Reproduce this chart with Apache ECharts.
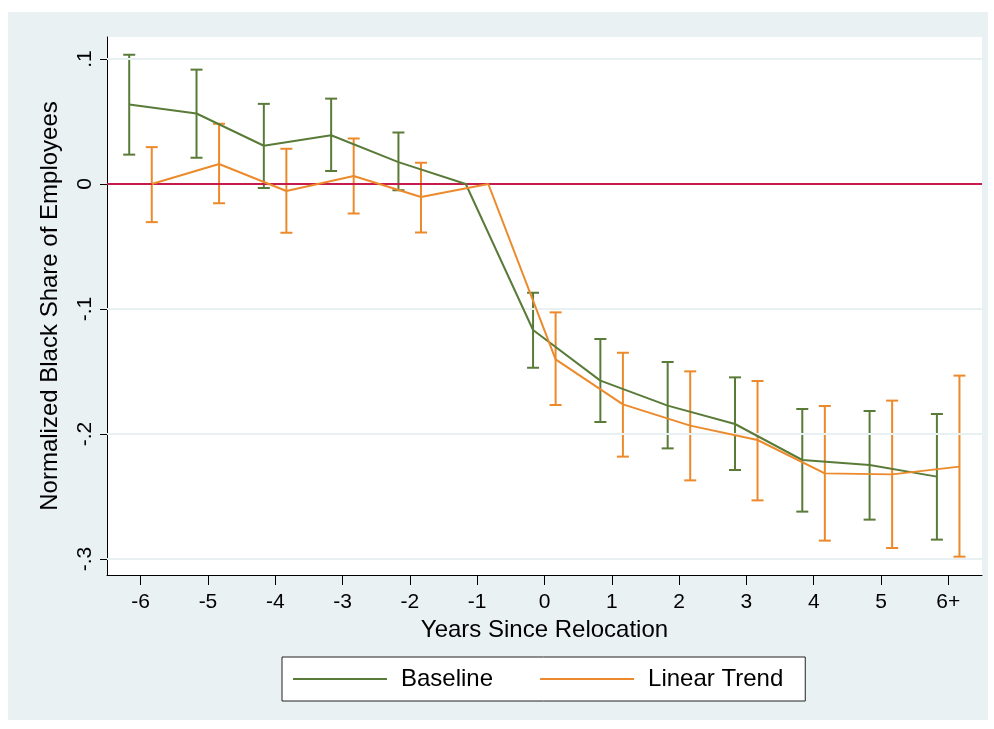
<!DOCTYPE html>
<html>
<head>
<meta charset="utf-8">
<script src="https://cdn.jsdelivr.net/npm/echarts@6/dist/echarts.min.js"></script>
<style>
html,body{margin:0;padding:0;background:#ffffff;}
#bg{position:absolute;left:8px;top:12px;width:980px;height:708px;background:#eaf1f3;}
#c{position:absolute;left:0;top:0;width:994px;height:729px;}
</style>
</head>
<body>
<div id="bg"></div>
<div id="c"></div>
<script>
// ---- data ----
const categories = ['-6','-5','-4','-3','-2','-1','0','1','2','3','4','5','6+'];
const yTickValues = [0.1, 0, -0.1, -0.2, -0.3];
const yTickLabels = ['.1', '0', '-.1', '-.2', '-.3'];

const baselineCoef = [0.0636, 0.0564, 0.0306, 0.0390, 0.0175, 0, -0.1168, -0.1573, -0.1773, -0.1920, -0.2208, -0.2248, -0.2341];
const baselineHi   = [0.1034, 0.0915, 0.0641, 0.0683, 0.0412, null, -0.0870, -0.1240, -0.1424, -0.1547, -0.1800, -0.1816, -0.1840];
const baselineLo   = [0.0235, 0.0210, -0.0032, 0.0104, -0.0050, null, -0.1470, -0.1904, -0.2115, -0.2288, -0.2621, -0.2685, -0.2845];

const trendCoef = [0, 0.0160, -0.0056, 0.0064, -0.0104, 0, -0.1403, -0.1763, -0.1933, -0.2048, -0.2315, -0.2323, -0.2261];
const trendHi   = [0.0295, 0.0482, 0.0282, 0.0364, 0.0170, null, -0.1027, -0.1350, -0.1499, -0.1576, -0.1776, -0.1733, -0.1533];
const trendLo   = [-0.0305, -0.0154, -0.0390, -0.0236, -0.0388, null, -0.1768, -0.2181, -0.2371, -0.2531, -0.2853, -0.2912, -0.2981];

// ---- style / layout ----
const GREEN = '#5a7b38';
const ORANGE = '#ec8a2b';
const RED = '#c41d4b';
const GRID_COLOR = '#e8f0f2';
const BASE_SHIFT = -0.17;
const TREND_SHIFT = 0.165;
const FONT = '"Liberation Sans", Arial, Helvetica, sans-serif';

function xPos(i){ return i - 6; }

function lineData(coef, shift){
  return coef.map((v,i)=>[xPos(i)+shift, v]);
}
function ciData(lo, hi, shift){
  const out = [];
  lo.forEach((v,i)=>{ if(v!==null && hi[i]!==null) out.push([xPos(i)+shift, v, hi[i]]); });
  return out;
}
function ciRender(color){
  return function(params, api){
    const x = api.value(0);
    const p1 = api.coord([x, api.value(1)]);
    const p2 = api.coord([x, api.value(2)]);
    const cap = 6;
    const st = {stroke: color, lineWidth: 2};
    return {type:'group', children:[
      {type:'line', shape:{x1:p1[0], y1:p1[1], x2:p2[0], y2:p2[1]}, style:st},
      {type:'line', shape:{x1:p1[0]-cap, y1:p1[1], x2:p1[0]+cap, y2:p1[1]}, style:st},
      {type:'line', shape:{x1:p2[0]-cap, y1:p2[1], x2:p2[0]+cap, y2:p2[1]}, style:st}
    ]};
  };
}

const chart = echarts.init(document.getElementById('c'), null, {renderer:'canvas'});
chart.setOption({
  backgroundColor: 'transparent',
  animation: false,
  textStyle: {fontFamily: FONT},
  grid: {left:107, top:37, right:12, bottom:154, show:true, backgroundColor:'#ffffff', borderWidth:0},
  xAxis: [
    {
      type:'category', data: categories, boundaryGap:true, gridIndex:0, position:'bottom',
      axisLine:{show:true, onZero:false, lineStyle:{color:'#000', width:1}},
      axisTick:{show:true, alignWithLabel:true, length:10, lineStyle:{color:'#000', width:1}},
      axisLabel:{fontSize:21, color:'#000', margin:17, fontFamily:FONT},
      splitLine:{show:false},
      name:'Years Since Relocation', nameLocation:'middle', nameGap:43,
      nameTextStyle:{fontSize:24, color:'#000', fontFamily:FONT}
    },
    {type:'value', min:-6.5, max:6.5, show:false, gridIndex:0, axisLine:{onZero:false}}
  ],
  yAxis: {
    type:'value', min:-0.3128, max:0.1176, position:'left',
    axisLine:{show:true, onZero:false, lineStyle:{color:'#000', width:1}},
    axisTick:{show:true, length:7, customValues: yTickValues, lineStyle:{color:'#000'}},
    axisLabel:{show:true, customValues: yTickValues, rotate:90, margin:11, fontSize:21, color:'#000', fontFamily:FONT,
      formatter: function(v){ const i = yTickValues.findIndex(t=>Math.abs(t-v)<1e-9); return i>=0 ? yTickLabels[i] : ''; }},
    splitLine:{show:false},
    name:'Normalized Black Share of Employees', nameLocation:'middle', nameGap:45,
    nameTextStyle:{fontSize:24, color:'#000', fontFamily:FONT}
  },
  legend: {
    data:['Baseline','Linear Trend'],
    left:282, top:657,
    backgroundColor:'#ffffff', borderColor:'#222', borderWidth:1, borderRadius:0,
    padding:[10,22,10,11], itemGap:47, itemWidth:94, itemHeight:2, icon:'rect',
    textStyle:{fontSize:24, color:'#000', fontFamily:FONT, padding:[0,0,0,9]}
  },
  series: [
    {
      name:'grid', type:'line', xAxisIndex:1, data:[], silent:true,
      markLine:{silent:true, symbol:'none', label:{show:false}, animation:false,
        lineStyle:{color:GRID_COLOR, width:2, type:'solid'},
        data: yTickValues.filter(v=>v!==0).map(v=>({yAxis:v}))}
    },
    {
      name:'zero', type:'line', xAxisIndex:1, data:[], silent:true, z:3,
      markLine:{silent:true, symbol:'none', label:{show:false}, animation:false,
        lineStyle:{color:RED, width:2, type:'solid'}, data:[{yAxis:0}]}
    },
    {
      name:'Baseline CI', type:'custom', xAxisIndex:1, renderItem: ciRender(GREEN),
      data: ciData(baselineLo, baselineHi, BASE_SHIFT), z:4
    },
    {
      name:'Linear Trend CI', type:'custom', xAxisIndex:1, renderItem: ciRender(ORANGE),
      data: ciData(trendLo, trendHi, TREND_SHIFT), z:4
    },
    {
      name:'Baseline', type:'line', xAxisIndex:1, data: lineData(baselineCoef, BASE_SHIFT),
      symbol:'none', lineStyle:{color:GREEN, width:2}, itemStyle:{color:GREEN}, z:5
    },
    {
      name:'Linear Trend', type:'line', xAxisIndex:1, data: lineData(trendCoef, TREND_SHIFT),
      symbol:'none', lineStyle:{color:ORANGE, width:2}, itemStyle:{color:ORANGE}, z:5
    }
  ]
});
</script>
</body>
</html>
